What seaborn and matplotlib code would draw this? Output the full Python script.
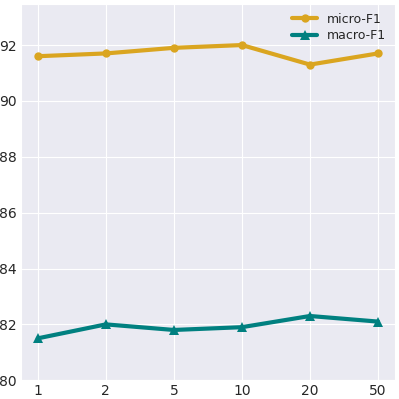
import numpy as np
import pandas as pd
import seaborn as sns
import matplotlib
matplotlib.use('Agg')
import matplotlib.pyplot as plt

x_labels = ['1', '2', '5', '10', '20', '50']
micro_f1 = [91.6, 91.7, 91.9, 92.0, 91.3, 91.7]
macro_f1 = [81.5, 82.0, 81.8, 81.9, 82.3, 82.1]

sns.set_style('darkgrid')
plt.rcParams['font.family'] = ['DejaVu Sans']

df = pd.DataFrame({'k': x_labels, 'micro-F1': micro_f1, 'macro-F1': macro_f1})
xs = np.arange(len(x_labels))

fig, ax = plt.subplots(figsize=(3.99, 3.99), dpi=100)
fig.subplots_adjust(left=0.052, right=0.99, top=0.99, bottom=0.047)

sns.lineplot(x=xs, y=df['micro-F1'], marker='o', color='#DAA520', linewidth=3,
             markersize=6, markeredgewidth=0, label='micro-F1', ax=ax)
sns.lineplot(x=xs, y=df['macro-F1'], marker='^', color='#008080', linewidth=3,
             markersize=7, markeredgewidth=0, label='macro-F1', ax=ax)

ax.set_xticks(xs)
ax.set_xticklabels(x_labels)
ax.set_xlim(-0.25, 5.25)
ax.set_ylim(80, 93.47)
ax.set_yticks([80, 82, 84, 86, 88, 90, 92])
ax.set_xlabel('')
ax.set_ylabel('')
ax.tick_params(axis='both', labelsize=10, length=0, pad=3)
ax.legend(loc='upper right', frameon=False, fontsize=9, borderaxespad=0.3,
          labelspacing=0.3)

plt.savefig('out.png', dpi=100)
